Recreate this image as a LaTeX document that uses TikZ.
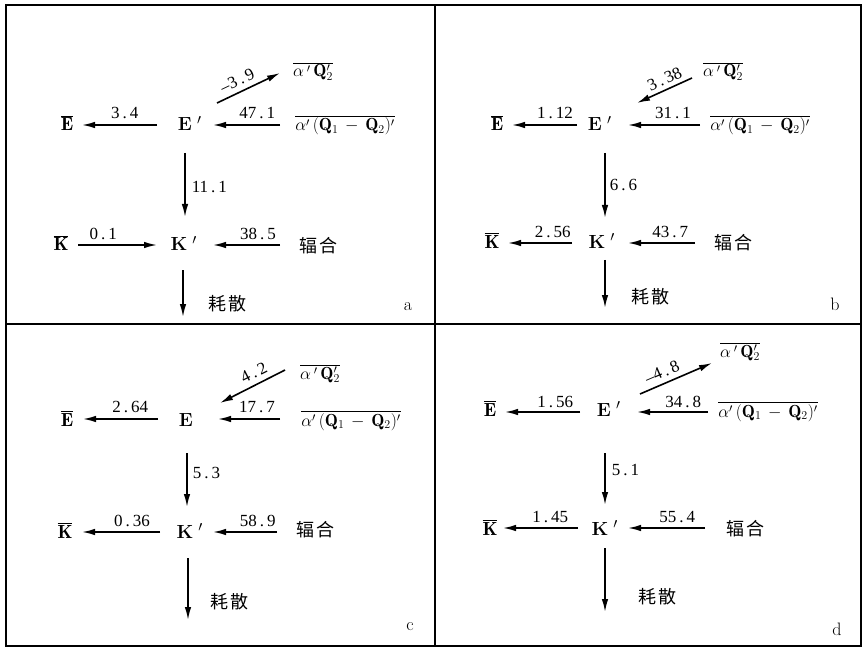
\documentclass[tikz,border=0pt]{standalone}
\usepackage{fontspec}
\newfontfamily\cjk{Noto Sans CJK SC}
\newfontfamily\numfont{Liberation Serif}
\usetikzlibrary{arrows.meta,calc}
\newcommand\numdot[2]{#1\kern3pt.\kern3pt#2}
\newcommand\barE{$\overline{\mathbf{E}}$}
\newcommand\barK{$\overline{\mathbf{K}}$}
\newcommand\primed[1]{\textbf{#1}\rlap{\kern5pt$'$}}
\newcommand\fluxQ{$\overline{\alpha'\,(\mathbf{Q}_1\,-\,\mathbf{Q}_2)'}$}
\newcommand\fluxQtwo{$\overline{\alpha\,'\,\mathbf{Q}_2'}$}
\begin{document}
\begin{tikzpicture}[x=1pt,y=-1pt,
 arr/.style={line width=1.6pt,-{Latex[length=13pt,width=6.5pt]}},
 frm/.style={line width=1.8pt},
 var/.style={inner sep=0pt,anchor=base,font=\fontsize{19}{19}\selectfont},
 src/.style={inner sep=0pt,anchor=base,font=\fontsize{17.5}{18}\selectfont},
 num/.style={inner sep=0pt,font=\fontsize{17}{17}\numfont},
 cn/.style={inner sep=0pt,anchor=base,font=\fontsize{18}{18}\cjk},
 tag/.style={inner sep=0pt,anchor=base,font=\fontsize{18}{18}\selectfont}]
\useasboundingbox (0,0) rectangle (864,652);
% frame
\draw[frm] (6,5) rectangle (861,646);
\draw[frm] (435,5) -- (435,646);
\draw[frm] (6,324) -- (861,324);
% ---------- panel a
\node[var] (Ea) at (67,131) {\barE};
\node[var] (Epa) at (185,131) {\primed{E}};
\node[src] (Qa) at (345,131) {\fluxQ};
\node[src] (Q2a) at (313,77) {\fluxQtwo};
\node[var] (Ka) at (61,251) {\barK};
\node[var] (Kpa) at (179,251) {\primed{K}};
\node[cn] (Fa) at (318,253) {辐\kern2pt合};
\coordinate (Za) at (183,317);
\node[cn] (Da) at (227,310) {耗\kern2pt散};
\node[tag] (La) at (408,310) {a};
\draw[arr] ($(Epa.base)+(-28,-6)$) -- node[num,pos=0.43,above=5pt]{\numdot{3}{4}} ($(Ea.base)+(15,-6)$);
\draw[arr] ($(Qa.base)+(-65,-6)$) -- node[num,pos=0.34,above=5pt]{\numdot{47}{1}} ($(Epa.base)+(28,-6)$);
\draw[arr] ($(Epa.base)+(32,-28)$) -- node[num,pos=0.4,sloped,above=5pt]{\textendash\numdot{3}{9}} ($(Q2a.base)+(-33,-4)$);
\draw[arr] ($(Epa.base)+(0,22)$) -- node[num,pos=0.53,right=6pt]{\numdot{11}{1}} ($(Kpa.base)+(6,-34)$);
\draw[arr] ($(Ka.base)+(17,-6)$) -- node[num,pos=0.32,above=4pt]{\numdot{0}{1}} ($(Kpa.base)+(-22,-6)$);
\draw[arr] ($(Fa.base)+(-38,-8)$) -- node[num,pos=0.33,above=4pt]{\numdot{38}{5}} ($(Kpa.base)+(34,-6)$);
\draw[arr] ($(Kpa.base)+(4,19)$) -- (Za);
% ---------- panel b
\node[var] (Eb) at (497,131) {\barE};
\node[var] (Epb) at (595,131) {\primed{E}};
\node[src] (Qb) at (760,131) {\fluxQ};
\node[src] (Q2b) at (723,77) {\fluxQtwo};
\node[var] (Kb) at (492,248) {\barK};
\node[var] (Kpb) at (597,248) {\primed{K}};
\node[cn] (Fb) at (733,250) {辐\kern2pt合};
\coordinate (Zb) at (605,308);
\node[cn] (Db) at (650,303) {耗\kern2pt散};
\node[tag] (Lb) at (835,310) {b};
\draw[arr] ($(Epb.base)+(-18,-6)$) -- node[num,pos=0.34,above=5pt]{\numdot{1}{12}} ($(Eb.base)+(15,-6)$);
\draw[arr] ($(Qb.base)+(-60,-6)$) -- node[num,pos=0.375,above=5pt]{\numdot{31}{1}} ($(Epb.base)+(33,-6)$);
\draw[arr] ($(Q2b.base)+(-31,1)$) -- node[num,pos=0.42,sloped,above=4pt]{\numdot{3}{38}} ($(Epb.base)+(42,-28)$);
\draw[arr] ($(Epb.base)+(10,22)$) -- node[num,pos=0.49,right=4pt]{\numdot{6}{6}} ($(Kpb.base)+(8,-30)$);
\draw[arr] ($(Kpb.base)+(-25,-5)$) -- node[num,pos=0.30,above=4pt]{\numdot{2}{56}} ($(Kb.base)+(16,-5)$);
\draw[arr] ($(Fb.base)+(-38,-7)$) -- node[num,pos=0.37,above=4pt]{\numdot{43}{7}} ($(Kpb.base)+(31,-5)$);
\draw[arr] ($(Kpb.base)+(8,12)$) -- (Zb);
% ---------- panel c
\node[var] (Ec) at (67,426) {\barE};
\node[var] (Epc) at (186,426) {\textbf{E}};
\node[src] (Qc) at (351,426) {\fluxQ};
\node[src] (Q2c) at (320,379) {\fluxQtwo};
\node[var] (Kc) at (65,538) {\barK};
\node[var] (Kpc) at (185,538) {\primed{K}};
\node[cn] (Fc) at (315,536) {辐\kern2pt合};
\coordinate (Zc) at (188,620);
\node[cn] (Dc) at (229,608) {耗\kern2pt散};
\node[tag] (Lc) at (410,630) {c};
\draw[arr] ($(Epc.base)+(-28,-7)$) -- node[num,pos=0.37,above=5pt]{\numdot{2}{64}} ($(Ec.base)+(16,-7)$);
\draw[arr] ($(Qc.base)+(-71,-7)$) -- node[num,pos=0.37,above=5pt]{\numdot{17}{7}} ($(Epc.base)+(32,-7)$);
\draw[arr] ($(Q2c.base)+(-35,-9)$) -- node[num,pos=0.4,sloped,above=5pt]{\numdot{4}{2}} ($(Epc.base)+(34,-23)$);
\draw[arr] ($(Epc.base)+(1,27)$) -- node[num,pos=0.37,right=5pt]{\numdot{5}{3}} ($(Kpc.base)+(2,-31)$);
\draw[arr] ($(Kpc.base)+(-25,-6)$) -- node[num,pos=0.36,above=4pt]{\numdot{0}{36}} ($(Kc.base)+(17,-6)$);
\draw[arr] ($(Fc.base)+(-38,-4)$) -- node[num,pos=0.30,above=4pt]{\numdot{58}{9}} ($(Kpc.base)+(28,-6)$);
\draw[arr] ($(Kpc.base)+(3,20)$) -- (Zc);
% ---------- panel d
\node[var] (Ed) at (490,416) {\barE};
\node[var] (Epd) at (604,416) {\primed{E}};
\node[src] (Qd) at (768,417) {\fluxQ};
\node[src] (Q2d) at (740,357) {\fluxQtwo};
\node[var] (Kd) at (490,535) {\barK};
\node[var] (Kpd) at (600,535) {\primed{K}};
\node[cn] (Fd) at (745,535) {辐\kern2pt合};
\coordinate (Zd) at (605,612);
\node[cn] (Dd) at (657,603) {耗\kern2pt散};
\node[tag] (Ld) at (837,635) {d};
\draw[arr] ($(Epd.base)+(-24,-4)$) -- node[num,pos=0.33,above=3pt]{\numdot{1}{56}} ($(Ed.base)+(15,-4)$);
\draw[arr] ($(Qd.base)+(-60,-5)$) -- node[num,pos=0.35,above=3pt]{\numdot{34}{8}} ($(Epd.base)+(33,-4)$);
\draw[arr] ($(Epd.base)+(36,-22)$) -- node[num,pos=0.37,sloped,above=5pt]{\textendash\numdot{4}{8}} ($(Q2d.base)+(-28,6)$);
\draw[arr] ($(Epd.base)+(1,37)$) -- node[num,pos=0.33,right=6pt]{\numdot{5}{1}} ($(Kpd.base)+(5,-30)$);
\draw[arr] ($(Kpd.base)+(-22,-7)$) -- node[num,pos=0.37,above=4pt]{\numdot{1}{45}} ($(Kd.base)+(13,-7)$);
\draw[arr] ($(Fd.base)+(-40,-7)$) -- node[num,pos=0.36,above=4pt]{\numdot{55}{4}} ($(Kpd.base)+(28,-7)$);
\draw[arr] ($(Kpd.base)+(5,13)$) -- (Zd);
\end{tikzpicture}
\end{document}
